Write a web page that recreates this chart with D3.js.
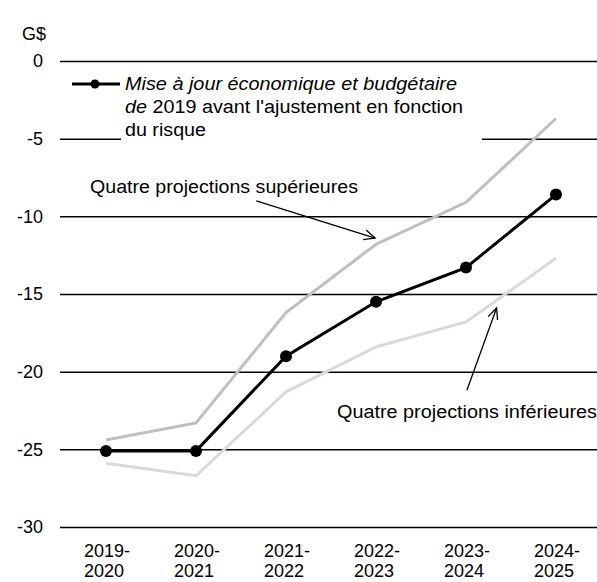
<!DOCTYPE html>
<html>
<head>
<meta charset="utf-8">
<script src="https://cdn.jsdelivr.net/npm/d3@7"></script>
<style>
  body { margin: 0; background: #fff; }
  text { font-family: "Liberation Sans", Arial, sans-serif; fill: #000; }
</style>
</head>
<body>
<div id="chart"></div>
<script>
const width = 597;
const height = 582;
const fontSize = "18px";

// data (G$)
const years = ["2019-2020", "2020-2021", "2021-2022", "2022-2023", "2023-2024", "2024-2025"];
const baseline = [-25.1, -25.1, -19.0, -15.5, -13.3, -8.6];
const upper = [-24.4, -23.3, -16.2, -11.8, -9.1, -3.7];
const lower = [-25.9, -26.7, -21.3, -18.4, -16.8, -12.7];
const yTicks = [0, -5, -10, -15, -20, -25, -30];

const legendLines = [
    [{ t: "Mise à jour économique et budgétaire", it: true }],
    [{ t: "de", it: true }, { t: " 2019 avant l'ajustement en fonction", it: false }],
    [{ t: "du risque", it: false }]
];

// annotation arrows, in (category index, value)
const notes = [
    { label: "Quatre projections supérieures", tx: 90, ty: 193, len: 268, from: [1.67, -9.0], to: [2.99, -11.4] },
    { label: "Quatre projections inférieures", tx: 337, ty: 418, len: 260, from: [4.01, -21.2], to: [4.34, -15.9] }
];

const svg = d3.select("#chart")
    .append("svg")
    .attr("width", width)
    .attr("height", height);

const x = d3.scalePoint()
    .domain(years)
    .range([61, 601])
    .padding(0.5);

const xi = d3.scaleLinear()
    .domain([0, years.length - 1])
    .range([x(years[0]), x(years[years.length - 1])]);

const y = d3.scaleLinear()
    .domain([-30, 0])
    .range([527, 61]);

// gridlines + y labels
const yAxis = svg.append("g")
    .attr("transform", "translate(60,0)")
    .call(d3.axisLeft(y).tickValues(yTicks).tickSize(-(width - 60)).tickPadding(17).tickFormat(d => String(d)));
yAxis.select(".domain").remove();
yAxis.selectAll(".tick line").attr("stroke", "#000").attr("stroke-width", 1.5);
yAxis.selectAll(".tick text")
    .style("font-size", fontSize)
    .style("font-family", "'Liberation Sans', Arial, sans-serif")
    .attr("fill", "#000");

svg.append("text")
    .attr("x", 34)
    .attr("y", 40)
    .attr("text-anchor", "middle")
    .style("font-size", fontSize)
    .text("G$");

// x labels, two lines
const xl = svg.append("g").selectAll("text")
    .data(years)
    .join("text")
    .style("font-size", fontSize);
xl.append("tspan")
    .attr("x", d => x(d) - 22)
    .attr("y", 557)
    .text(d => d.split("-")[0] + "-");
xl.append("tspan")
    .attr("x", d => x(d) - 22)
    .attr("y", 577)
    .text(d => d.split("-")[1]);

// legend background hides part of the -5 gridline
svg.append("rect")
    .attr("x", 121)
    .attr("y", 70)
    .attr("width", 361)
    .attr("height", 72)
    .attr("fill", "#fff");

const line = d3.line()
    .x((d, i) => x(years[i]))
    .y(d => y(d));

svg.append("path")
    .datum(upper)
    .attr("fill", "none")
    .attr("stroke", "#bfbfbf")
    .attr("stroke-width", 3)
    .attr("d", line);

svg.append("path")
    .datum(lower)
    .attr("fill", "none")
    .attr("stroke", "#d9d9d9")
    .attr("stroke-width", 3)
    .attr("d", line);

svg.append("path")
    .datum(baseline)
    .attr("fill", "none")
    .attr("stroke", "#000")
    .attr("stroke-width", 3)
    .attr("d", line);

svg.append("g").selectAll("circle")
    .data(baseline)
    .join("circle")
    .attr("cx", (d, i) => x(years[i]))
    .attr("cy", d => y(d))
    .attr("r", 6)
    .attr("fill", "#000");

// legend
svg.append("line")
    .attr("x1", 72).attr("x2", 120)
    .attr("y1", 84).attr("y2", 84)
    .attr("stroke", "#000")
    .attr("stroke-width", 3);
svg.append("circle")
    .attr("cx", 95).attr("cy", 84).attr("r", 4.5)
    .attr("fill", "#000");

const legendLen = [332, 338, 81];
legendLines.forEach((parts, i) => {
    const t = svg.append("text")
        .attr("x", 125)
        .attr("y", 90 + i * 23)
        .attr("textLength", legendLen[i])
        .attr("lengthAdjust", "spacingAndGlyphs")
        .style("font-size", fontSize);
    parts.forEach(p => {
        t.append("tspan")
            .style("font-style", p.it ? "italic" : "normal")
            .text(p.t);
    });
});

// annotations
svg.append("defs").append("marker")
    .attr("id", "arrow")
    .attr("viewBox", "0 0 12 12")
    .attr("refX", 11)
    .attr("refY", 6)
    .attr("markerWidth", 12)
    .attr("markerHeight", 12)
    .attr("markerUnits", "userSpaceOnUse")
    .attr("orient", "auto")
    .append("path")
    .attr("d", "M0,1 L11,6 L0,11")
    .attr("fill", "none")
    .attr("stroke", "#000")
    .attr("stroke-width", 1.3);

notes.forEach(n => {
    svg.append("text")
        .attr("x", n.tx)
        .attr("y", n.ty)
        .attr("textLength", n.len)
        .attr("lengthAdjust", "spacingAndGlyphs")
        .style("font-size", fontSize)
        .text(n.label);
    svg.append("line")
        .attr("x1", xi(n.from[0])).attr("y1", y(n.from[1]))
        .attr("x2", xi(n.to[0])).attr("y2", y(n.to[1]))
        .attr("stroke", "#000")
        .attr("stroke-width", 1.3)
        .attr("marker-end", "url(#arrow)");
});
</script>
</body>
</html>
